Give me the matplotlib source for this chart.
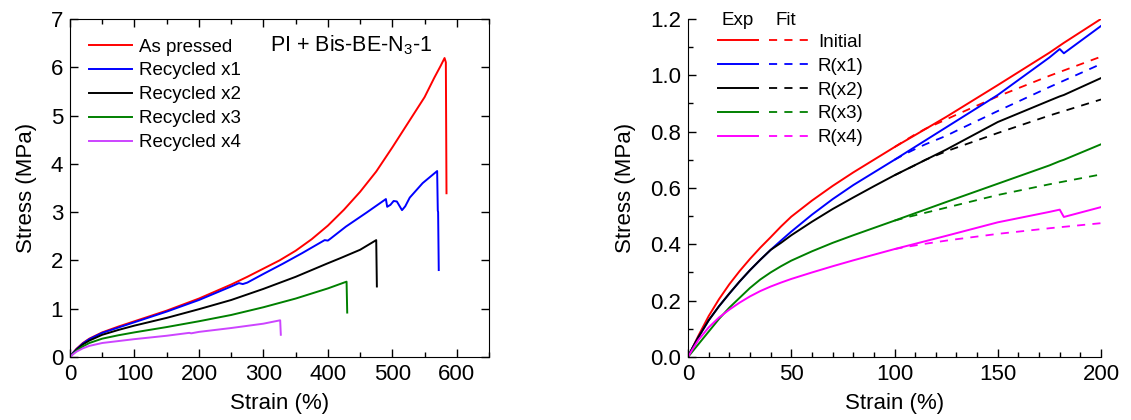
import matplotlib
matplotlib.use('Agg')
import matplotlib.pyplot as plt
from matplotlib.ticker import MultipleLocator
from matplotlib.legend_handler import HandlerTuple

plt.rcParams['font.family'] = ['Liberation Sans', 'DejaVu Sans']
plt.rcParams['mathtext.default'] = 'regular'

# Left panel: full stress-strain curves
strain_ap = [0, 5, 10, 20, 30, 50, 75, 100, 150, 200, 250, 275, 300, 325, 350, 375, 400, 425, 450, 475,
             500, 525, 550, 565, 575, 581, 583, 584]
stress_ap = [0, 0.09, 0.17, 0.29, 0.38, 0.51, 0.63, 0.74, 0.96, 1.21, 1.5, 1.66, 1.83, 2.0, 2.2, 2.44,
             2.72, 3.05, 3.42, 3.84, 4.34, 4.86, 5.38, 5.78, 6.03, 6.19, 6.1, 3.39]

strain_r1 = [0, 5, 10, 20, 30, 50, 75, 100, 150, 200, 250, 262, 268, 275, 300, 330, 360, 395, 400, 405,
             428, 460, 490, 492, 497, 502, 507, 515, 520, 527, 547, 569.5, 570.5, 571, 572]
stress_r1 = [0, 0.09, 0.16, 0.28, 0.37, 0.5, 0.61, 0.72, 0.94, 1.18, 1.46, 1.53, 1.51, 1.54, 1.72, 1.93,
             2.15, 2.42, 2.41, 2.46, 2.7, 2.99, 3.27, 3.11, 3.15, 3.23, 3.22, 3.04, 3.12, 3.3, 3.6, 3.85,
             3.03, 3.0, 1.8]

strain_r2 = [0, 5, 10, 20, 30, 50, 75, 100, 150, 200, 250, 300, 350, 398, 420, 450, 475, 476]
stress_r2 = [0, 0.08, 0.15, 0.26, 0.34, 0.46, 0.56, 0.65, 0.81, 0.99, 1.18, 1.41, 1.66, 1.93, 2.05,
             2.22, 2.42, 1.46]

strain_r3 = [0, 5, 10, 20, 30, 50, 75, 100, 150, 200, 250, 300, 350, 400, 429, 430]
stress_r3 = [0, 0.07, 0.13, 0.22, 0.29, 0.38, 0.45, 0.51, 0.62, 0.74, 0.87, 1.03, 1.21, 1.42, 1.56, 0.92]

strain_r4 = [0, 5, 10, 20, 30, 50, 75, 100, 150, 185, 188, 200, 250, 300, 326, 327]
stress_r4 = [0, 0.06, 0.11, 0.18, 0.23, 0.29, 0.33, 0.37, 0.44, 0.5, 0.49, 0.52, 0.6, 0.69, 0.76, 0.46]

left_labels = ['As pressed', 'Recycled x1', 'Recycled x2', 'Recycled x3', 'Recycled x4']
left_colors = ['#ff0000', '#0000ff', '#000000', '#008000', '#cc44ff']

# Right panel: experiment vs fit up to 200 %
strain_exp = [0, 2, 5, 10, 15, 20, 25, 30, 35, 40, 45, 50, 60, 70, 80, 90, 100, 125, 150, 175, 180,
              182, 200]
exp_init = [0, 0.03, 0.075, 0.145, 0.205, 0.258, 0.305, 0.348, 0.388, 0.425, 0.463, 0.498, 0.555, 0.607,
            0.655, 0.7, 0.745, 0.852, 0.965, 1.08, 1.105, 1.115, 1.2]
exp_r1 = [0, 0.03, 0.07, 0.13, 0.18, 0.225, 0.268, 0.308, 0.345, 0.38, 0.413, 0.445, 0.505, 0.56, 0.61,
          0.655, 0.7, 0.815, 0.93, 1.063, 1.093, 1.078, 1.175]
exp_r2 = [0, 0.03, 0.07, 0.13, 0.18, 0.225, 0.268, 0.308, 0.345, 0.38, 0.405, 0.432, 0.48, 0.525, 0.566,
          0.606, 0.645, 0.736, 0.834, 0.91, 0.925, 0.93, 0.99]
exp_r3 = [0, 0.018, 0.045, 0.09, 0.135, 0.175, 0.21, 0.245, 0.275, 0.3, 0.322, 0.342, 0.375, 0.405, 0.432,
          0.458, 0.484, 0.55, 0.615, 0.68, 0.695, 0.70, 0.755]
exp_r4 = [0, 0.025, 0.06, 0.105, 0.14, 0.168, 0.193, 0.215, 0.234, 0.25, 0.264, 0.277, 0.3, 0.322, 0.343,
          0.363, 0.383, 0.43, 0.478, 0.515, 0.523, 0.497, 0.532]

strain_fit = [100, 105, 110, 115, 125, 130, 150, 175, 200]
fit_init = [0.745, 0.768, 0.79, 0.81, 0.843, 0.86, 0.925, 0.998, 1.066]
fit_r1 = [0.7, 0.72, 0.738, 0.755, 0.785, 0.803, 0.873, 0.958, 1.04]
fit_r2 = [0.645, 0.663, 0.681, 0.7, 0.73, 0.743, 0.795, 0.857, 0.914]
fit_r3 = [0.484, 0.494, 0.503, 0.512, 0.53, 0.539, 0.575, 0.613, 0.648]
fit_r4 = [0.383, 0.39, 0.396, 0.402, 0.413, 0.418, 0.437, 0.457, 0.475]

right_labels = ['Initial', 'R(x1)', 'R(x2)', 'R(x3)', 'R(x4)']
right_colors = ['#ff0000', '#0000ff', '#000000', '#008000', '#ff00ff']

fig = plt.figure(figsize=(11.31, 4.2), dpi=100)
ax1 = fig.add_axes([0.0619, 0.15, 0.3705, 0.805])
ax2 = fig.add_axes([0.6083, 0.15, 0.3652, 0.805])

fs_tick = 16
fs_leg = 13.5

left_x = [strain_ap, strain_r1, strain_r2, strain_r3, strain_r4]
left_y = [stress_ap, stress_r1, stress_r2, stress_r3, stress_r4]
for x, y, c, lab in zip(left_x, left_y, left_colors, left_labels):
    ax1.plot(x, y, color=c, lw=1.4, label=lab)

ax1.set_xlim(0, 650)
ax1.set_ylim(0, 7)
ax1.xaxis.set_major_locator(MultipleLocator(100))
ax1.xaxis.set_minor_locator(MultipleLocator(50))
ax1.yaxis.set_major_locator(MultipleLocator(1))
ax1.tick_params(which='both', direction='in', top=True, right=True, labelsize=fs_tick, width=1, pad=5)
ax1.tick_params(which='major', length=6)
ax1.tick_params(which='minor', length=3.5)
ax1.set_xlabel('Strain (%)', fontsize=fs_tick, labelpad=6)
ax1.set_ylabel('Stress (MPa)', fontsize=fs_tick, labelpad=10)
ax1.legend(loc='upper left', bbox_to_anchor=(0.0143, 0.981), frameon=False, fontsize=fs_leg,
           handlelength=2.3, handletextpad=0.35, labelspacing=0.36, borderaxespad=0.3)
ax1.text(0.67, 0.923, 'PI + Bis-BE-N$_3$-1', transform=ax1.transAxes, fontsize=15.5,
         ha='center', va='center')

exp_sets = [exp_init, exp_r1, exp_r2, exp_r3, exp_r4]
fit_sets = [fit_init, fit_r1, fit_r2, fit_r3, fit_r4]
handles = []
for e, f, c in zip(exp_sets, fit_sets, right_colors):
    lf, = ax2.plot(strain_fit, f, color=c, lw=1.3, ls=(0, (4.5, 4)))
    le, = ax2.plot(strain_exp, e, color=c, lw=1.4)
    handles.append((le, lf))

ax2.set_xlim(0, 200)
ax2.set_ylim(0, 1.2)
ax2.xaxis.set_major_locator(MultipleLocator(50))
ax2.xaxis.set_minor_locator(MultipleLocator(10))
ax2.yaxis.set_major_locator(MultipleLocator(0.2))
ax2.yaxis.set_minor_locator(MultipleLocator(0.1))
ax2.yaxis.set_major_formatter(plt.FormatStrFormatter('%.1f'))
ax2.spines['top'].set_visible(False)
ax2.spines['right'].set_visible(False)
ax2.tick_params(which='both', direction='in', labelsize=fs_tick, width=1, pad=5)
ax2.tick_params(which='major', length=6)
ax2.tick_params(which='minor', length=3.5)
ax2.set_xlabel('Strain (%)', fontsize=fs_tick, labelpad=6)
ax2.set_ylabel('Stress (MPa)', fontsize=fs_tick, labelpad=10)
ax2.legend(handles, right_labels, handler_map={tuple: HandlerTuple(ndivide=None, pad=0.6)},
           loc='upper left', bbox_to_anchor=(0.04, 0.995), frameon=False, fontsize=fs_leg,
           handlelength=4.9, handletextpad=0.45, labelspacing=0.36, borderaxespad=0.3)
ax2.text(0.121, 0.994, 'Exp', transform=ax2.transAxes, fontsize=fs_leg, ha='center', va='center')
ax2.text(0.237, 0.994, 'Fit', transform=ax2.transAxes, fontsize=fs_leg, ha='center', va='center')

fig.savefig('out.png', dpi=100)
